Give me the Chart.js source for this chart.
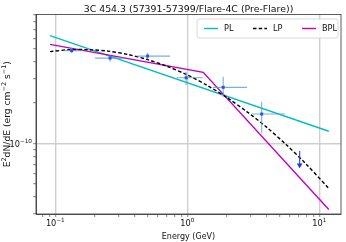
<!DOCTYPE html>
<html><head><meta charset="utf-8">
<script src="https://cdn.jsdelivr.net/npm/chart.js@4.4.0/dist/chart.umd.min.js"></script>
<style>html,body{margin:0;padding:0;background:#fff}#wrap{width:346px;height:242px;position:relative}</style>
</head><body><div id="wrap"><canvas id="c"></canvas></div>
<script>
// ---- text ----
const TITLE = '3C 454.3 (57391-57399/Flare-4C (Pre-Flare))';
const X_LABEL = 'Energy (GeV)';
// rich text pieces: [text, isSuperscript]
const Y_LABEL_PARTS = [['E', 0], ['2', 1], ['dN/dE (erg cm', 0], ['−2', 1], [' s', 0], ['−1', 1], [')', 0]];
const X_TICKS = [0.1, 1, 10];
const X_TICK_LABELS = [[['10', 0], ['−1', 1]], [['10', 0], ['0', 1]], [['10', 0], ['1', 1]]];
const Y_TICKS = [1e-10];
const Y_TICK_LABELS = [[['10', 0], ['−10', 1]]];
const X_RANGE = [0.0714, 14.6];
const Y_RANGE = [3e-11, 9e-10];
const LEGEND_LABELS = ['PL', 'LP', 'BPL'];

// ---- data points (flux points with errors) ----
const E_POINTS = [0.133, 0.26, 0.50, 0.98, 1.87, 3.66];
const F_POINTS = [4.86e-10, 4.28e-10, 4.43e-10, 3.06e-10, 2.60e-10, 1.65e-10];
const F_HI = [5.08e-10, 4.51e-10, 4.69e-10, 3.39e-10, 3.11e-10, 2.03e-10];
const F_LO = [4.67e-10, 4.02e-10, 4.19e-10, 2.70e-10, 2.21e-10, 1.19e-10];
const E_LO = [0.115, 0.20, 0.416, 0.83, 1.56, 3.08];
const E_HI = [0.16, 0.33, 0.74, 1.31, 2.83, 5.5];
// upper limit
const UL_E = [7.1];
const UL_F = [8.8e-11];
const UL_ARROW = [6.9e-11];

// ---- model curves ----
const PL_E = [0.0912, 11.8];
const PL_F = [6.27e-10, 1.23e-10];
const BPL_E = [0.0912, 1.32, 11.8];
const BPL_F = [5.41e-10, 3.36e-10, 3.24e-11];
const LP_E = [0.0912, 0.126, 0.178, 0.251, 0.355, 0.501, 0.708, 1.0, 1.41, 2.0, 2.82, 3.98, 5.62, 7.94, 11.8];
const LP_F = [4.78e-10, 4.93e-10, 4.94e-10, 4.82e-10, 4.55e-10, 4.17e-10, 3.71e-10, 3.21e-10, 2.69e-10, 2.18e-10, 1.72e-10, 1.32e-10, 9.77e-11, 7.03e-11, 4.64e-11];

const pts = (xs, ys) => xs.map((x, i) => ({x: x, y: ys[i]}));
const FONT = 'DejaVu Sans';
const C_PL = '#00bfbf', C_LP = '#000000', C_BPL = '#bf00bf';

function minorTicks(min, max) {
  const out = [];
  for (let e = Math.floor(Math.log10(min)); e <= Math.ceil(Math.log10(max)); e++) {
    for (let m = 1; m <= 9; m++) {
      const v = m * Math.pow(10, e);
      if (v >= min * 0.9999 && v <= max * 1.0001) out.push({value: v});
    }
  }
  return out;
}
const near = (v, arr) => arr.findIndex(t => Math.abs(Math.log10(v) - Math.log10(t)) < 1e-6);

function richWidth(ctx, parts, size) {
  let w = 0;
  parts.forEach(p => { ctx.font = (p[1] ? size * 0.7 : size) + 'px "' + FONT + '"'; w += ctx.measureText(p[0]).width; });
  return w;
}
function drawRich(ctx, parts, size, x, y) {
  let cx = x;
  parts.forEach(p => {
    const s = p[1] ? size * 0.7 : size;
    ctx.font = s + 'px "' + FONT + '"';
    ctx.fillText(p[0], cx, p[1] ? y - size * 0.4 : y);
    cx += ctx.measureText(p[0]).width;
  });
}

const decor = {
  id: 'decor',
  afterDatasetsDraw(chart) {
    const ctx = chart.ctx, xs = chart.scales.x, ys = chart.scales.y, a = chart.chartArea;
    ctx.save();
    ctx.strokeStyle = 'rgba(90,155,220,0.8)';
    ctx.lineWidth = 1.1;
    for (let i = 0; i < E_POINTS.length; i++) {
      const px = xs.getPixelForValue(E_POINTS[i]), py = ys.getPixelForValue(F_POINTS[i]);
      ctx.beginPath();
      ctx.moveTo(xs.getPixelForValue(E_LO[i]), py);
      ctx.lineTo(xs.getPixelForValue(E_HI[i]), py);
      ctx.moveTo(px, ys.getPixelForValue(F_LO[i]));
      ctx.lineTo(px, ys.getPixelForValue(F_HI[i]));
      ctx.stroke();
    }
    const meta = chart.getDatasetMeta(3);
    ctx.fillStyle = '#1f5bd6';
    meta.data.forEach(el => { ctx.fillRect(el.x - 1.5, el.y - 1.5, 3, 3); });
    ctx.strokeStyle = '#2040ff';
    ctx.lineWidth = 1.1;
    for (let i = 0; i < UL_E.length; i++) {
      const px = xs.getPixelForValue(UL_E[i]);
      ctx.beginPath();
      ctx.moveTo(px, ys.getPixelForValue(UL_F[i]));
      ctx.lineTo(px, ys.getPixelForValue(UL_ARROW[i]));
      ctx.stroke();
    }
    ctx.strokeStyle = '#333';
    ctx.lineWidth = 0.8;
    ctx.strokeRect(a.left, a.top, a.right - a.left, a.bottom - a.top);
    ctx.restore();
  },
  afterDraw(chart) {
    const ctx = chart.ctx, a = chart.chartArea, xs = chart.scales.x, ys = chart.scales.y;
    ctx.save();
    ctx.fillStyle = '#111';
    ctx.textBaseline = 'middle';
    // title
    ctx.font = '9.4px "' + FONT + '"';
    ctx.textAlign = 'center';
    ctx.fillText(TITLE, (a.left + a.right) / 2, 9.5);
    // x label
    ctx.font = '8px "' + FONT + '"';
    ctx.fillText(X_LABEL, (a.left + a.right) / 2, 236.5);
    // tick labels
    ctx.textAlign = 'left';
    const TS = 8.2;
    X_TICKS.forEach((t, i) => {
      const w = richWidth(ctx, X_TICK_LABELS[i], TS);
      drawRich(ctx, X_TICK_LABELS[i], TS, xs.getPixelForValue(t) - w / 2, a.bottom + 10);
    });
    Y_TICKS.forEach((t, i) => {
      const w = richWidth(ctx, Y_TICK_LABELS[i], TS);
      drawRich(ctx, Y_TICK_LABELS[i], TS, a.left - 4 - w, ys.getPixelForValue(t) + 1);
    });
    // y label
    const LS = 9.2;
    const yw = richWidth(ctx, Y_LABEL_PARTS, LS);
    ctx.save();
    ctx.translate(8, (a.top + a.bottom) / 2);
    ctx.rotate(-Math.PI / 2);
    drawRich(ctx, Y_LABEL_PARTS, LS, -yw / 2, 0);
    ctx.restore();
    // legend
    const lx = a.right - 144, ly = a.top + 4.5, lw = 141, lh = 19;
    ctx.fillStyle = 'rgba(255,255,255,0.85)';
    ctx.strokeStyle = '#d0d0d0';
    ctx.lineWidth = 0.8;
    ctx.beginPath();
    if (ctx.roundRect) ctx.roundRect(lx, ly, lw, lh, 2); else ctx.rect(lx, ly, lw, lh);
    ctx.fill(); ctx.stroke();
    const cols = [C_PL, C_LP, C_BPL];
    const hx = [lx + 7, lx + 56, lx + 105];
    const cy = ly + lh / 2;
    ctx.font = '8.2px "' + FONT + '"';
    for (let i = 0; i < 3; i++) {
      ctx.strokeStyle = cols[i];
      ctx.lineWidth = 1.4;
      ctx.setLineDash(i === 1 ? [3.5, 2.2] : []);
      ctx.beginPath();
      ctx.moveTo(hx[i], cy); ctx.lineTo(hx[i] + 14, cy);
      ctx.stroke();
      ctx.setLineDash([]);
      ctx.fillStyle = '#111';
      ctx.fillText(LEGEND_LABELS[i], hx[i] + 20, cy + 0.5);
    }
    ctx.restore();
  }
};

new Chart(document.getElementById('c'), {
  type: 'scatter',
  data: {
    datasets: [
      {label: 'PL', data: pts(PL_E, PL_F), showLine: true, borderColor: C_PL, borderWidth: 1.4, pointRadius: 0, order: 3},
      {label: 'LP', data: pts(LP_E, LP_F), showLine: true, borderColor: C_LP, borderWidth: 1.4, borderDash: [3.5, 2.2], pointRadius: 0, tension: 0.3, order: 1},
      {label: 'BPL', data: pts(BPL_E, BPL_F), showLine: true, borderColor: C_BPL, borderWidth: 1.4, pointRadius: 0, order: 2},
      {label: 'data', data: pts(E_POINTS, F_POINTS), showLine: false, pointRadius: 0, order: 0},
      {label: 'UL', data: pts(UL_E, UL_ARROW), showLine: false, pointStyle: 'triangle', rotation: 180, pointRadius: 3.2, backgroundColor: '#1030e8', borderColor: '#1030e8', borderWidth: 0, order: 0}
    ]
  },
  options: {
    responsive: true, maintainAspectRatio: false, animation: false,
    layout: {padding: {left: 0, right: 5, top: 14.5, bottom: 0}},
    plugins: {legend: {display: false}, tooltip: {enabled: false}, title: {display: false}},
    scales: {
      x: {
        type: 'logarithmic', min: X_RANGE[0], max: X_RANGE[1],
        afterBuildTicks: s => { s.ticks = minorTicks(X_RANGE[0], X_RANGE[1]); },
        afterFit: s => { s.height = 28; },
        border: {display: true, color: '#333', width: 0.8},
        grid: {
          color: c => (c.tick && near(c.tick.value, X_TICKS) >= 0) ? '#cfcfcf' : 'rgba(0,0,0,0)',
          lineWidth: 1.4, drawTicks: true, tickLength: 3, tickColor: '#555', tickWidth: 0.7
        },
        ticks: {autoSkip: false, maxRotation: 0, padding: 1, font: {family: FONT, size: 8}, callback: () => ''}
      },
      y: {
        type: 'logarithmic', min: Y_RANGE[0], max: Y_RANGE[1],
        afterBuildTicks: s => { s.ticks = minorTicks(Y_RANGE[0], Y_RANGE[1]); },
        afterFit: s => { s.width = 36; },
        border: {display: true, color: '#333', width: 0.8},
        grid: {
          color: c => (c.tick && near(c.tick.value, Y_TICKS) >= 0) ? '#cfcfcf' : 'rgba(0,0,0,0)',
          lineWidth: 1.4, drawTicks: true, tickLength: 3, tickColor: '#555', tickWidth: 0.7
        },
        ticks: {autoSkip: false, padding: 2, font: {family: FONT, size: 8}, callback: () => ''}
      }
    }
  },
  plugins: [decor]
});
</script>
</body></html>
